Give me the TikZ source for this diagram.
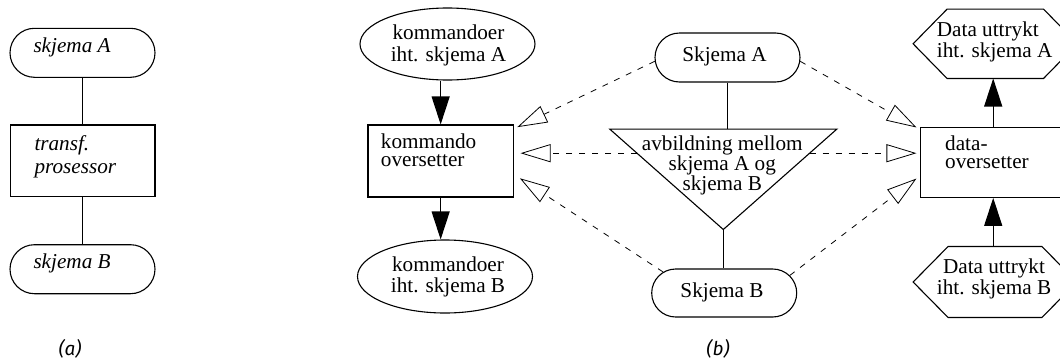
\documentclass[tikz,border=0pt]{standalone}
\usepackage{fontspec}
\setmainfont{Liberation Serif}
\newfontfamily\capfont{Fira Sans}
\usetikzlibrary{arrows.meta,shapes.misc,shapes.geometric,calc}

% multi-line labels whose base anchor is the first baseline
\newcommand\stackL[2][22]{\vtop{\baselineskip=#1pt\lineskiplimit=-100pt\halign{##\hfil\cr#2\crcr}}}
\newcommand\stackC[2][22]{\vtop{\baselineskip=#1pt\lineskiplimit=-100pt\halign{\hfil##\hfil\cr#2\crcr}}}

\begin{document}
\begin{tikzpicture}[x=1pt,y=-1pt,
  every node/.style={inner sep=0pt},
  outline/.style={draw, line width=1.1pt},
  term/.style={outline, rounded rectangle, minimum width=145pt, minimum height=49pt},
  box/.style={outline, rectangle, minimum width=145pt, minimum height=71pt},
  oval/.style={outline, ellipse, minimum width=175pt, minimum height=72pt},
  holder/.style={rectangle, minimum width=#1},
  lbl/.style={font=\fontsize{21.2}{22}\selectfont},
  ilbl/.style={font=\fontsize{21.2}{22}\selectfont\itshape},
  figcap/.style={font=\fontsize{19}{20}\selectfont\capfont\itshape, anchor=base},
  link/.style={line width=1.1pt},
  flow/.style={line width=1.1pt, -{Triangle[length=28pt,width=18pt]}},
  mapto/.style={line width=0.8pt, dash pattern=on 6pt off 7pt,
                -{Triangle[open,length=30pt,width=18pt]}},
]
\useasboundingbox (0,0) rectangle (1060,362);
\clip (0,0) rectangle (1060,362);

% ---------- (a) ----------
\node[term] (aA) at (82.5,52.8) {};
\node[box, minimum width=144.3pt, minimum height=71.7pt] (aT) at (82.8,160.8) {};
\node[term] (aB) at (82.5,269.2) {};
\draw[link] (aA.south) -- (aA.south |- aT.north);
\draw[link] (aT.south) -- (aT.south |- aB.north);
\node[ilbl, anchor=base west] (aAt) at (33.3,52.7) {skjema A};
\node[ilbl, anchor=base west] (aTt) at (34.3,150) {\stackL[23.3]{transf.\cr prosessor}};
\node[ilbl, anchor=base west] (aBt) at (33.3,268.3) {skjema B};
\node[figcap] (capA) at (70,355) {(a)};

% ---------- (b): command side ----------
\node[oval] (cA) at (447.5,44) {};
\node[lbl, anchor=base] (cAt) at (448.5,39.3) {\stackC[21.7]{kommandoer\cr iht. skjema A}};
\node[box, minimum width=145.3pt, minimum height=72pt] (cmd) at (440.65,161) {};
\node[lbl, anchor=base west] (cmdt) at (380.7,148.3) {\stackL[18.5]{kommando\cr oversetter}};
\node[oval, minimum height=73pt] (cB) at (445,276.5) {};
\node[lbl, anchor=base] (cBt) at (448,271.7) {\stackC[20.6]{kommandoer\cr iht. skjema B}};
\draw[flow] (cmd.north |- cA.south) -- (cmd.north);
\draw[flow] (cmd.south) -- (cmd.south |- cB.north);

% ---------- (b): schemas and mapping ----------
\node[term] (SA) at (727.5,57.5) {};
\node[lbl, anchor=base] (SAt) at (724.5,61.5) {Skjema A};
\node[holder=226.7pt, minimum height=100pt] (mapf) at (723.3,179.3) {};
\draw[link] (mapf.north west) -- (mapf.north east) -- (mapf.south) -- cycle;
\node[lbl, anchor=base] (mapt) at (722.3,150) {\stackC[20]{avbildning mellom\cr skjema A og\cr skjema B}};
\node[term, minimum height=48pt] (SB) at (724.2,293) {};
\node[lbl, anchor=base] (SBt) at (722,297.7) {Skjema B};
\draw[link] (SA.south) -- (SA.south |- mapf.north);
\draw[link] (mapf.south) -- (mapf.south |- SB.north);
\coordinate (mapL) at ($(mapf.north west)!0.24!(mapf.south)$);
\coordinate (mapR) at ($(mapf.north east)!0.24!(mapf.south)$);

% ---------- (b): data side ----------
\node[box, minimum height=70pt] (data) at (993.2,162.3) {};
\node[lbl, anchor=base west] (datat) at (945,150.7) {\stackL[17.6]{data-\cr oversetter}};

\node[holder=164pt, minimum height=69pt] (hexA) at (995.3,43.8) {};
\draw[link] (hexA.west) -- ($(hexA.north west)+(34,0)$) -- ($(hexA.north east)+(-34,0)$)
  -- (hexA.east) -- ($(hexA.south east)+(-34,0)$) -- ($(hexA.south west)+(34,0)$) -- cycle;
\node[lbl, anchor=base west] (hexAt) at (936.7,36) {\stackL[21.3]{Data uttrykt\cr iht. skjema A}};

\node[holder=163.4pt, minimum height=70.6pt] (hexB) at (995,282) {};
\draw[link] (hexB.west) -- ($(hexB.north west)+(35,0)$) -- ($(hexB.north east)+(-35,0)$)
  -- (hexB.east) -- ($(hexB.south east)+(-35,0)$) -- ($(hexB.south west)+(35,0)$) -- cycle;
\node[lbl, anchor=base] (hexBt) at (994,273.3) {\stackC[21]{Data uttrykt\cr iht. skjema B}};

\draw[flow] (data.north) -- (data.north |- hexA.south);
\draw[flow] (data.south |- hexB.north) -- (data.south);

% ---------- (b): mapping relations ----------
\draw[mapto] (SA.183.3) -- ($(cmd.north east)+(3.4,2.7)$);
\draw[mapto, shorten >=6.7pt] (mapL) -- (cmd.east |- mapL);
\draw[mapto] (SB.161.9) -- ($(cmd.south east)+(6,-19.3)$);
\draw[mapto] (SA.-3.3) -- ($(data.north west)+(-3.7,0.7)$);
\draw[mapto, shorten >=3.7pt] (mapR) -- (data.west |- mapR);
\draw[mapto] (SB.15.8) -- ($(data.south west)+(-3.7,-19.3)$);

\node[figcap] (capB) at (718,355) {(b)};
\end{tikzpicture}
\end{document}
